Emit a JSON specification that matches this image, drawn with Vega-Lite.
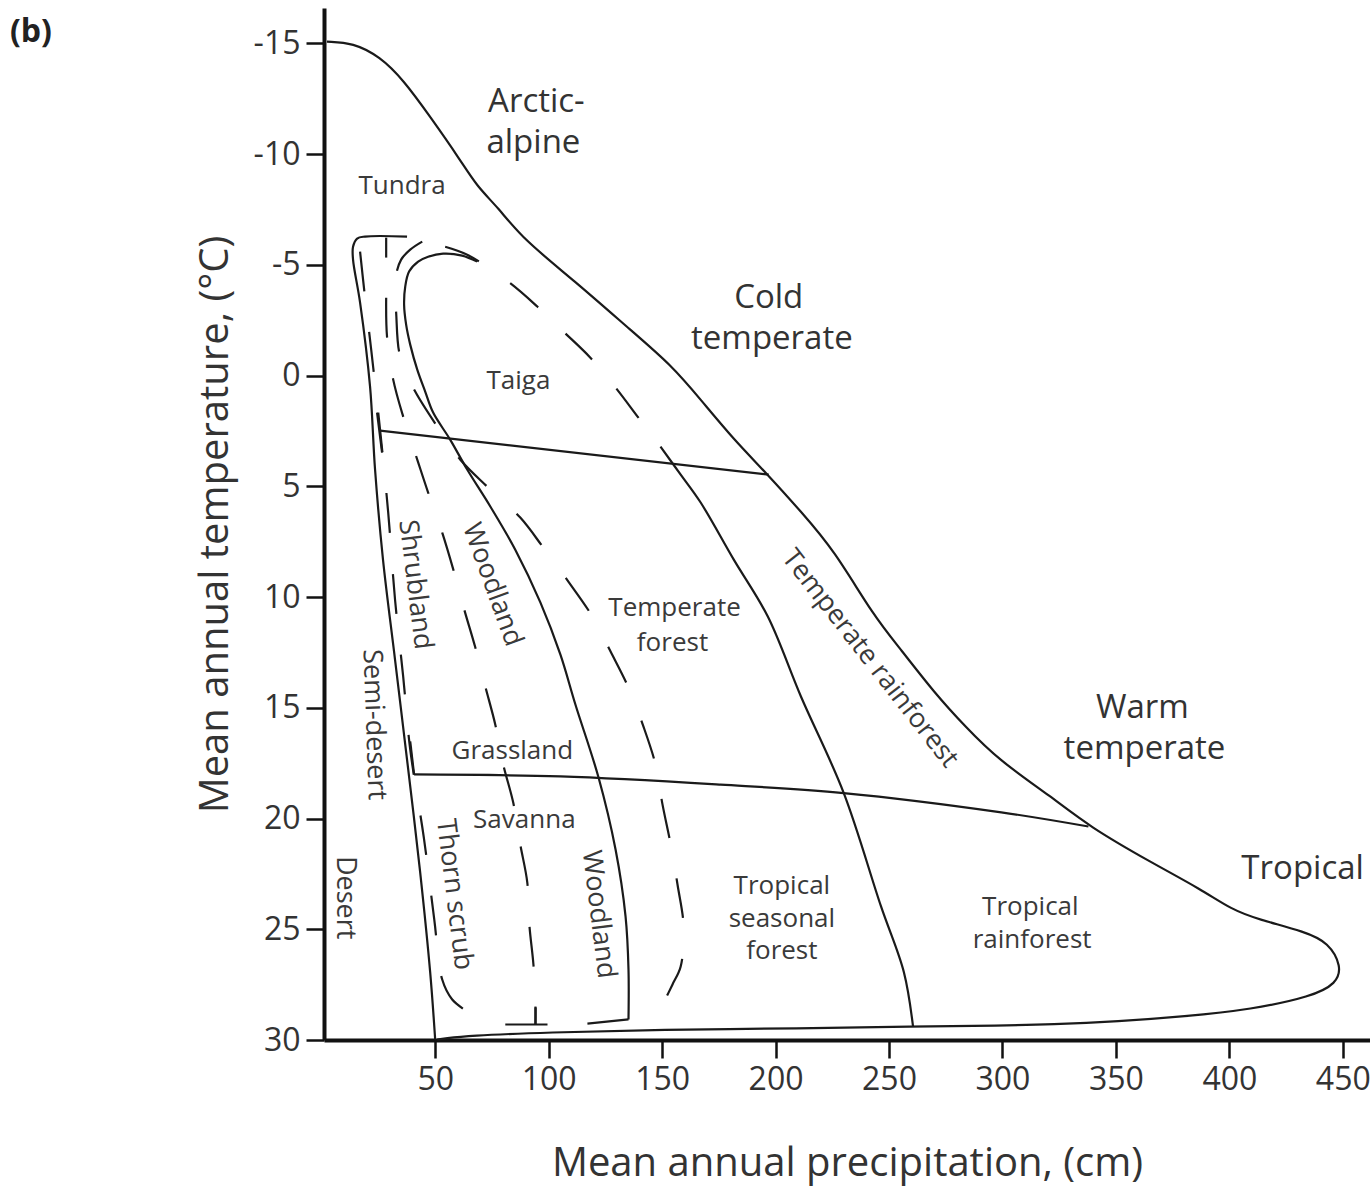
{
  "$schema": "https://vega.github.io/schema/vega-lite/v6.json",
  "width": 1046,
  "height": 1032,
  "autosize": {"type": "none"},
  "padding": {"left": 324, "top": 8, "right": 0, "bottom": 146},
  "background": "white",
  "config": {"view": {"stroke": null}},
  "title": {"text": "(b)", "anchor": "start", "frame": "group", "orient": "top", "offset": 0, "dx": -314, "dy": 41, "baseline": "top", "font": "Open Sans", "fontSize": 32, "fontWeight": "bold", "color": "#222"},
  "datasets": {
    "lines": [
      {"s":"A","i":1,"x":2.3,"y":-15.08},{"s":"A","i":2,"x":13.8,"y":-15.03},{"s":"A","i":3,"x":25.7,"y":-14.40},{"s":"A","i":4,"x":35.9,"y":-13.36},{"s":"A","i":5,"x":47.8,"y":-11.69},{"s":"A","i":6,"x":61.0,"y":-9.75},{"s":"A","i":7,"x":68.5,"y":-8.53},{"s":"A","i":8,"x":77.4,"y":-7.63},{"s":"A","i":9,"x":88.9,"y":-6.14},{"s":"A","i":10,"x":110.9,"y":-4.33},{"s":"A","i":11,"x":137.4,"y":-1.94},{"s":"A","i":12,"x":153.8,"y":-0.50},{"s":"A","i":13,"x":167.0,"y":1.08},{"s":"A","i":14,"x":181.6,"y":2.89},{"s":"A","i":15,"x":196.6,"y":4.47},{"s":"A","i":16,"x":211.2,"y":6.14},{"s":"A","i":17,"x":225.7,"y":7.86},{"s":"A","i":18,"x":243.4,"y":10.88},{"s":"A","i":19,"x":255.3,"y":12.37},{"s":"A","i":20,"x":269.9,"y":14.31},{"s":"A","i":21,"x":284.0,"y":15.89},{"s":"A","i":22,"x":298.1,"y":17.34},{"s":"A","i":23,"x":321.5,"y":19.01},{"s":"A","i":24,"x":338.2,"y":20.36},{"s":"A","i":25,"x":365.7,"y":21.99},{"s":"A","i":26,"x":387.8,"y":23.21},{"s":"A","i":27,"x":401.0,"y":24.11},{"s":"A","i":28,"x":412.9,"y":24.56},{"s":"A","i":29,"x":433.2,"y":25.10},{"s":"A","i":30,"x":443.8,"y":25.60},{"s":"A","i":31,"x":449.5,"y":26.68},{"s":"A","i":32,"x":447.3,"y":27.45},{"s":"A","i":33,"x":436.3,"y":28.04},{"s":"A","i":34,"x":409.8,"y":28.62},{"s":"A","i":35,"x":380.2,"y":28.94},{"s":"A","i":36,"x":351.1,"y":29.16},{"s":"A","i":37,"x":321.5,"y":29.30},{"s":"A","i":38,"x":299.5,"y":29.35},{"s":"A","i":39,"x":260.6,"y":29.39},{"s":"A","i":40,"x":211.2,"y":29.48},{"s":"A","i":41,"x":149.3,"y":29.53},{"s":"A","i":42,"x":99.5,"y":29.66},{"s":"A","i":43,"x":64.1,"y":29.80},{"s":"A","i":44,"x":54.4,"y":29.93},{"s":"A","i":45,"x":50.9,"y":29.98},
      {"s":"B","i":1,"x":37.6,"y":-6.28},{"s":"B","i":2,"x":19.1,"y":-6.28},{"s":"B","i":3,"x":15.6,"y":-6.19},{"s":"B","i":4,"x":13.8,"y":-5.82},{"s":"B","i":5,"x":13.8,"y":-5.24},{"s":"B","i":6,"x":16.9,"y":-3.30},{"s":"B","i":7,"x":21.3,"y":0.50},{"s":"B","i":8,"x":23.5,"y":4.24},{"s":"B","i":9,"x":27.0,"y":8.31},{"s":"B","i":10,"x":32.3,"y":12.82},{"s":"B","i":11,"x":37.6,"y":17.34},{"s":"B","i":12,"x":43.4,"y":22.44},{"s":"B","i":13,"x":47.8,"y":26.95},{"s":"B","i":14,"x":50.0,"y":29.98},
      {"s":"C","i":1,"x":68.5,"y":-5.15},{"s":"C","i":2,"x":61.9,"y":-5.42},{"s":"C","i":3,"x":53.5,"y":-5.51},{"s":"C","i":4,"x":46.9,"y":-5.37},{"s":"C","i":5,"x":42.5,"y":-5.15},{"s":"C","i":6,"x":38.5,"y":-4.70},{"s":"C","i":7,"x":36.8,"y":-4.02},{"s":"C","i":8,"x":36.3,"y":-3.21},{"s":"C","i":9,"x":37.2,"y":-2.30},{"s":"C","i":10,"x":39.0,"y":-1.40},{"s":"C","i":11,"x":42.1,"y":-0.27},{"s":"C","i":12,"x":45.6,"y":0.72},{"s":"C","i":13,"x":49.1,"y":1.67},{"s":"C","i":14,"x":56.6,"y":2.89},{"s":"C","i":15,"x":64.1,"y":4.24},{"s":"C","i":16,"x":74.3,"y":5.91},{"s":"C","i":17,"x":85.3,"y":7.86},{"s":"C","i":18,"x":96.4,"y":10.25},{"s":"C","i":19,"x":105.2,"y":12.60},{"s":"C","i":20,"x":111.8,"y":14.85},{"s":"C","i":21,"x":122.0,"y":18.15},{"s":"C","i":22,"x":129.5,"y":21.40},{"s":"C","i":23,"x":133.9,"y":24.42},{"s":"C","i":24,"x":135.2,"y":26.82},{"s":"C","i":25,"x":135.2,"y":29.07},
      {"s":"E","i":1,"x":149.3,"y":3.21},{"s":"E","i":2,"x":158.2,"y":4.47},{"s":"E","i":3,"x":167.0,"y":5.73},{"s":"E","i":4,"x":181.6,"y":8.31},{"s":"E","i":5,"x":196.6,"y":10.88},{"s":"E","i":6,"x":211.2,"y":14.49},{"s":"E","i":7,"x":230.0,"y":18.83},{"s":"E","i":8,"x":246.5,"y":23.97},{"s":"E","i":9,"x":256.6,"y":26.95},{"s":"E","i":10,"x":260.6,"y":29.39},
      {"s":"H2","i":1,"x":40.7,"y":18.01},{"s":"H2","i":2,"x":105.2,"y":18.10},{"s":"H2","i":3,"x":175.8,"y":18.47},{"s":"H2","i":4,"x":230.0,"y":18.85},{"s":"H2","i":5,"x":299.5,"y":19.72},{"s":"H2","i":6,"x":337.9,"y":20.36},
      {"s":"H1","i":1,"x":25.7,"y":2.48},{"s":"H1","i":2,"x":197.0,"y":4.47},
      {"s":"t1","i":1,"x":24.4,"y":1.67},{"s":"t1","i":2,"x":26.6,"y":3.48},
      {"s":"h2v","i":1,"x":39.0,"y":16.52},{"s":"h2v","i":2,"x":40.7,"y":18.01},
      {"s":"Cf","i":1,"x":135.2,"y":29.07},{"s":"Cf","i":2,"x":117.1,"y":29.26},
      {"s":"D2t","i":1,"x":28.4,"y":-6.23},{"s":"D2t","i":2,"x":28.4,"y":-5.33},
      {"s":"D2f","i":1,"x":80.9,"y":29.30},{"s":"D2f","i":2,"x":99.5,"y":29.30},
      {"s":"D2ft","i":1,"x":94.2,"y":28.49},{"s":"D2ft","i":2,"x":94.2,"y":29.30},
      {"s":"D1","i":1,"x":16.9,"y":-5.60},{"s":"D1","i":2,"x":18.7,"y":-3.88},{"s":"D1","i":3,"x":21.8,"y":-1.17},{"s":"D1","i":4,"x":25.7,"y":2.44},{"s":"D1","i":5,"x":29.3,"y":6.19},{"s":"D1","i":6,"x":32.3,"y":10.11},{"s":"D1","i":7,"x":35.9,"y":13.59},{"s":"D1","i":8,"x":39.0,"y":16.88},{"s":"D1","i":9,"x":45.0,"y":20.86},{"s":"D1","i":10,"x":49.6,"y":24.56},{"s":"D1","i":11,"x":53.1,"y":27.27},{"s":"D1","i":12,"x":57.5,"y":28.17},{"s":"D1","i":13,"x":64.1,"y":28.71},
      {"s":"D2","i":1,"x":28.4,"y":-3.52},{"s":"D2","i":2,"x":28.8,"y":-1.72},{"s":"D2","i":3,"x":31.5,"y":0.18},{"s":"D2","i":4,"x":35.9,"y":1.85},{"s":"D2","i":5,"x":42.1,"y":3.79},{"s":"D2","i":6,"x":46.9,"y":5.28},{"s":"D2","i":7,"x":53.1,"y":7.09},{"s":"D2","i":8,"x":58.0,"y":8.76},{"s":"D2","i":9,"x":62.8,"y":10.56},{"s":"D2","i":10,"x":67.7,"y":12.28},{"s":"D2","i":11,"x":72.1,"y":14.04},{"s":"D2","i":12,"x":76.5,"y":15.76},{"s":"D2","i":13,"x":80.0,"y":17.56},{"s":"D2","i":14,"x":84.4,"y":19.28},{"s":"D2","i":15,"x":87.5,"y":21.17},{"s":"D2","i":16,"x":90.6,"y":22.89},{"s":"D2","i":17,"x":91.5,"y":24.79},{"s":"D2","i":18,"x":93.3,"y":26.59},{"s":"D2","i":19,"x":94.2,"y":28.17},{"s":"D2","i":20,"x":94.2,"y":29.30},
      {"s":"D3","i":1,"x":44.3,"y":-6.05},{"s":"D3","i":2,"x":39.0,"y":-5.69},{"s":"D3","i":3,"x":35.0,"y":-5.24},{"s":"D3","i":4,"x":32.8,"y":-4.56},{"s":"D3","i":5,"x":32.3,"y":-3.79},{"s":"D3","i":6,"x":32.8,"y":-2.84},{"s":"D3","i":7,"x":34.1,"y":-1.08},{"s":"D3","i":8,"x":37.2,"y":-0.18},{"s":"D3","i":9,"x":41.2,"y":0.72},{"s":"D3","i":10,"x":50.9,"y":2.30},{"s":"D3","i":11,"x":61.0,"y":3.79},{"s":"D3","i":12,"x":73.4,"y":5.06},{"s":"D3","i":13,"x":87.5,"y":6.41},{"s":"D3","i":14,"x":97.7,"y":7.77},{"s":"D3","i":15,"x":108.7,"y":9.30},{"s":"D3","i":16,"x":119.3,"y":10.88},{"s":"D3","i":17,"x":127.3,"y":12.46},{"s":"D3","i":18,"x":135.2,"y":14.09},{"s":"D3","i":19,"x":141.8,"y":15.85},{"s":"D3","i":20,"x":147.1,"y":17.56},{"s":"D3","i":21,"x":150.2,"y":19.37},{"s":"D3","i":22,"x":153.8,"y":21.17},{"s":"D3","i":23,"x":156.8,"y":22.98},{"s":"D3","i":24,"x":159.5,"y":24.88},{"s":"D3","i":25,"x":158.2,"y":26.68},{"s":"D3","i":26,"x":154.6,"y":27.49},{"s":"D3","i":27,"x":150.7,"y":28.31},
      {"s":"D4","i":1,"x":54.4,"y":-5.82},{"s":"D4","i":2,"x":64.1,"y":-5.46},{"s":"D4","i":3,"x":82.2,"y":-4.24},{"s":"D4","i":4,"x":95.0,"y":-3.12},{"s":"D4","i":5,"x":106.5,"y":-1.99},{"s":"D4","i":6,"x":118.4,"y":-0.81},{"s":"D4","i":7,"x":129.5,"y":0.54},{"s":"D4","i":8,"x":139.2,"y":1.85},{"s":"D4","i":9,"x":147.6,"y":2.98}
    ],
    "labels": [
      {"kind":"big","t":"Arctic-","x":94.6,"y":-12.36},
      {"kind":"big","t":"alpine","x":93.3,"y":-10.51},
      {"kind":"big","t":"Cold","x":197.0,"y":-3.51},
      {"kind":"big","t":"temperate","x":198.4,"y":-1.66},
      {"kind":"big","t":"Warm","x":361.7,"y":15.0},
      {"kind":"big","t":"temperate","x":362.6,"y":16.85},
      {"kind":"big","t":"Tropical","x":432.3,"y":22.27},
      {"kind":"small","t":"Tundra","x":35.4,"y":-8.57},
      {"kind":"small","t":"Taiga","x":86.7,"y":0.24},
      {"kind":"small","t":"Temperate","x":155.5,"y":10.48},
      {"kind":"small","t":"forest","x":154.6,"y":12.06},
      {"kind":"small","t":"Grassland","x":84.0,"y":16.94},
      {"kind":"small","t":"Savanna","x":89.3,"y":20.05},
      {"kind":"small","t":"Tropical","x":202.8,"y":23.05},
      {"kind":"small","t":"seasonal","x":202.8,"y":24.52},
      {"kind":"small","t":"forest","x":202.8,"y":26.0},
      {"kind":"small","t":"Tropical","x":312.3,"y":24.0},
      {"kind":"small","t":"rainforest","x":313.1,"y":25.47},
      {"kind":"r70","t":"Woodland","x":75.2,"y":9.44},
      {"kind":"r83","t":"Shrubland","x":41.2,"y":9.44},
      {"kind":"r88","t":"Semi-desert","x":23.1,"y":15.76},
      {"kind":"r90","t":"Desert","x":10.3,"y":23.57},
      {"kind":"r83","t":"Thorn scrub","x":58.4,"y":23.43},
      {"kind":"r83","t":"Woodland","x":122.0,"y":24.33},
      {"kind":"r52","t":"Temperate rainforest","x":241.6,"y":12.78}
    ]
  },
  "encoding": {
    "x": {"field": "x", "type": "quantitative",
      "scale": {"domain": [1, 462], "nice": false, "zero": false},
      "axis": {"title": "Mean annual precipitation, (cm)", "values": [50,100,150,200,250,300,350,400,450], "grid": false,
        "domainWidth": 4, "domainColor": "#111", "tickColor": "#111", "tickWidth": 2.5, "tickSize": 18,
        "labelFont": "Open Sans", "labelFontSize": 32, "labelColor": "#333", "labelPadding": 6, "labelFlush": false,
        "titleFont": "Open Sans", "titleFontSize": 40, "titleFontWeight": "normal", "titleColor": "#333", "titlePadding": 48}},
    "y": {"field": "y", "type": "quantitative",
      "scale": {"domain": [-16.6, 30], "nice": false, "zero": false, "reverse": true},
      "axis": {"title": "Mean annual temperature, (°C)", "values": [-15,-10,-5,0,5,10,15,20,25,30], "grid": false,
        "labelExpr": "datum.value + ''",
        "domainWidth": 4, "domainColor": "#111", "tickColor": "#111", "tickWidth": 2.5, "tickSize": 18,
        "labelFont": "Open Sans", "labelFontSize": 32, "labelColor": "#333", "labelPadding": 6,
        "titleFont": "Open Sans", "titleFontSize": 40, "titleFontWeight": "normal", "titleColor": "#333", "titlePadding": 18}}
  },
  "layer": [
    {"data": {"name": "lines"},
     "transform": [{"filter": "datum.s == 'A'"}],
     "mark": {"type": "line", "interpolate": "basis", "color": "#1a1a1a", "strokeWidth": 2.2},
     "encoding": {"detail": {"field": "s"}, "order": {"field": "i", "type": "quantitative"}}},
    {"data": {"name": "lines"},
     "transform": [{"filter": "indexof(['B','C','E','H2'], datum.s) >= 0"}],
     "mark": {"type": "line", "interpolate": "catmull-rom", "color": "#1a1a1a", "strokeWidth": 2.2},
     "encoding": {"detail": {"field": "s"}, "order": {"field": "i", "type": "quantitative"}}},
    {"data": {"name": "lines"},
     "transform": [{"filter": "indexof(['H1','t1','h2v','Cf','D2t','D2f','D2ft'], datum.s) >= 0"}],
     "mark": {"type": "line", "interpolate": "linear", "color": "#1a1a1a", "strokeWidth": 2.2},
     "encoding": {"detail": {"field": "s"}, "order": {"field": "i", "type": "quantitative"}}},
    {"data": {"name": "lines"},
     "transform": [{"filter": "indexof(['D1','D2','D3'], datum.s) >= 0"}],
     "mark": {"type": "line", "interpolate": "catmull-rom", "color": "#1a1a1a", "strokeWidth": 2.2, "strokeDash": [40, 41]},
     "encoding": {"detail": {"field": "s"}, "order": {"field": "i", "type": "quantitative"}}},
    {"data": {"name": "lines"},
     "transform": [{"filter": "datum.s == 'D4'"}],
     "mark": {"type": "line", "interpolate": "catmull-rom", "color": "#1a1a1a", "strokeWidth": 2.2, "strokeDash": [37, 38]},
     "encoding": {"detail": {"field": "s"}, "order": {"field": "i", "type": "quantitative"}}},
    {"data": {"name": "labels"}, "transform": [{"filter": "datum.kind == 'big'"}],
     "mark": {"type": "text", "font": "Open Sans", "fontSize": 33, "color": "#333", "align": "center", "baseline": "middle"},
     "encoding": {"text": {"field": "t"}}},
    {"data": {"name": "labels"}, "transform": [{"filter": "datum.kind == 'small'"}],
     "mark": {"type": "text", "font": "Open Sans", "fontSize": 26, "color": "#3a3a3a", "align": "center", "baseline": "middle"},
     "encoding": {"text": {"field": "t"}}},
    {"data": {"name": "labels"}, "transform": [{"filter": "datum.kind == 'r70'"}],
     "mark": {"type": "text", "font": "Open Sans", "fontSize": 27, "color": "#3a3a3a", "align": "center", "baseline": "middle", "angle": 70},
     "encoding": {"text": {"field": "t"}}},
    {"data": {"name": "labels"}, "transform": [{"filter": "datum.kind == 'r83'"}],
     "mark": {"type": "text", "font": "Open Sans", "fontSize": 27, "color": "#3a3a3a", "align": "center", "baseline": "middle", "angle": 83},
     "encoding": {"text": {"field": "t"}}},
    {"data": {"name": "labels"}, "transform": [{"filter": "datum.kind == 'r88'"}],
     "mark": {"type": "text", "font": "Open Sans", "fontSize": 27, "color": "#3a3a3a", "align": "center", "baseline": "middle", "angle": 88},
     "encoding": {"text": {"field": "t"}}},
    {"data": {"name": "labels"}, "transform": [{"filter": "datum.kind == 'r90'"}],
     "mark": {"type": "text", "font": "Open Sans", "fontSize": 27, "color": "#3a3a3a", "align": "center", "baseline": "middle", "angle": 90},
     "encoding": {"text": {"field": "t"}}},
    {"data": {"name": "labels"}, "transform": [{"filter": "datum.kind == 'r52'"}],
     "mark": {"type": "text", "font": "Open Sans", "fontSize": 27, "color": "#3a3a3a", "align": "center", "baseline": "middle", "angle": 52},
     "encoding": {"text": {"field": "t"}}}
  ]
}
